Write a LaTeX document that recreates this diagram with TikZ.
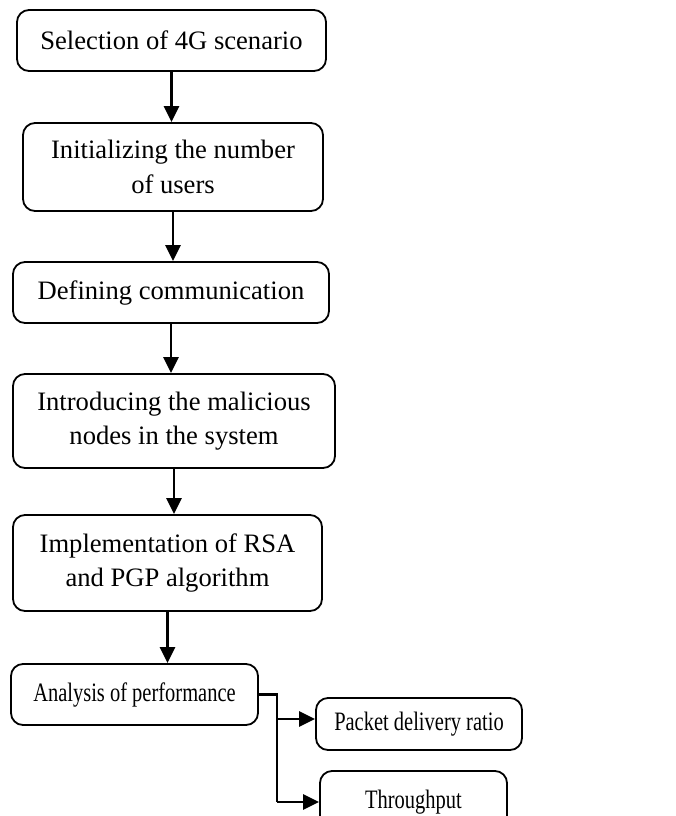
\documentclass[tikz,border=0pt]{standalone}
\usepackage{fontspec}
\setmainfont{Liberation Serif}
\newfontfamily\narrowserif[FakeStretch=0.77]{Liberation Serif}
\usetikzlibrary{arrows.meta}

\begin{document}
\begin{tikzpicture}[x=0.5pt, y=-0.5pt, >={Triangle[length=8pt,width=7.5pt]},
    box/.style={draw, line width=0.9pt, rounded corners=6pt, align=center,
        inner sep=0pt, font=\fontsize{13.3}{17.3}\selectfont},
    narrowbox/.style={box, font=\narrowserif\fontsize{13.3}{17.3}\selectfont},
    flow/.style={->, line width=1.2pt}]
    \useasboundingbox (0,0) rectangle (676,816);
    \clip (0,0) rectangle (676,816);

    % main chain of steps
    \node[box, minimum width=154.5pt, minimum height=30.5pt] (sel) at (171.5,40.5)
        {Selection of 4G scenario};
    \node[box, minimum width=150pt, minimum height=44pt] (init) at (173,167)
        {Initializing the number\\of users};
    \node[box, minimum width=158pt, minimum height=30.5pt] (comm) at (171,292.5)
        {Defining communication};
    \node[box, minimum width=161pt, minimum height=47pt] (mal) at (174,421)
        {Introducing the malicious\\nodes in the system};
    \node[box, minimum width=154.5pt, minimum height=48pt] (algo) at (167.5,563)
        {Implementation of RSA\\and PGP algorithm};
    \node[narrowbox, minimum width=123.5pt, minimum height=30.5pt] (perf) at (134.5,694.5)
        {Analysis of performance};

    % the two measured quantities
    \node[narrowbox, minimum width=103pt, minimum height=26pt] (pdr) at (419,724)
        {Packet delivery ratio};
    \node[narrowbox, minimum width=93.5pt, minimum height=31pt] (thr) at (413.5,802)
        {Throughput};

    \foreach \a/\b in {sel/init, init/comm, comm/mal, mal/algo, algo/perf} {
        \draw[flow] (\a.south) -- (\a.south |- \b.north);
    }

    % branch out of the last step
    \coordinate (fork) at (277,694.5);
    \coordinate (pdrin) at ([yshift=2.5pt]pdr.west);
    \draw[line width=1.2pt] (perf.east) -- (fork) -- (fork |- thr.west);
    \draw[flow] (fork |- pdrin) -- (pdrin);
    \draw[flow] (fork |- thr.west) -- (thr.west);
\end{tikzpicture}
\end{document}
